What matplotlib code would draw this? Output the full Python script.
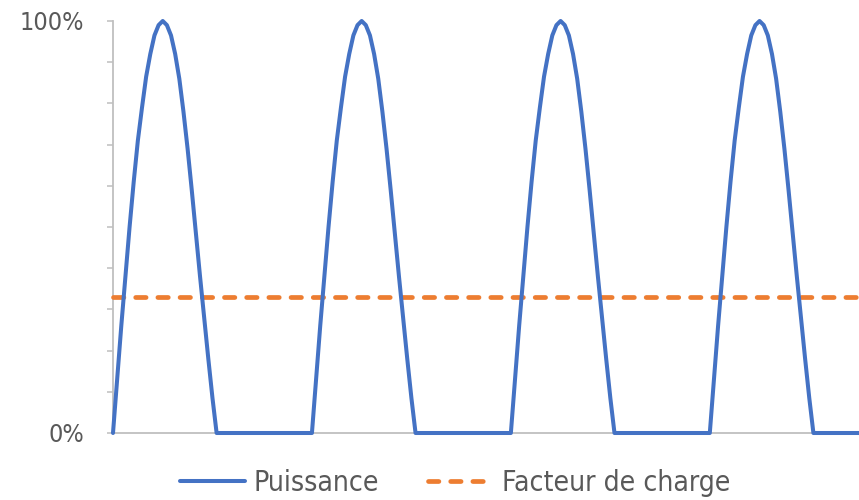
import numpy as np
import matplotlib
matplotlib.use("Agg")
import matplotlib.pyplot as plt
from matplotlib import font_manager

# production profile over one day, one value every half hour (% of peak power)
rise = [0, 13, 26, 38, 50, 61, 71, 79, 86.5, 92, 96.5, 99, 100]
fall = [99, 96.5, 92, 86, 78, 69, 59, 48.5, 38, 28, 18, 8.5, 0]
night = [0] * 22
n_days = 4
load_factor = 33

day = rise + fall + night
puissance = day * n_days
hours = np.arange(len(puissance)) * 0.5

blue = "#4472C4"
orange = "#ED7D31"
grey = "#BFBFBF"
txt = "#595959"

# narrow face if one is available
fonts = [(f.name, f.stretch) for f in font_manager.fontManager.ttflist]
narrow = any(n == "Liberation Sans Narrow" for n, _ in fonts)
condensed = any(n == "DejaVu Sans" and s == "condensed" for n, s in fonts)

fig = plt.figure(figsize=(8.59, 5.0), dpi=100)
ax = fig.add_axes([113 / 859, 67 / 500, 1 - 113 / 859, 412 / 500])

ax.plot(hours, puissance, color=blue, lw=2.9, solid_joinstyle="round",
        solid_capstyle="round", clip_on=False, zorder=4, label="Puissance")
ax.plot([0, hours[-1]], [load_factor, load_factor], color=orange, lw=3.4,
        linestyle=(0, (2.2, 2.5)), dash_capstyle="round", clip_on=False,
        zorder=3, label="Facteur de charge")

ax.set_xlim(0, 90)
ax.set_ylim(0, 100)

for s in ["top", "right"]:
    ax.spines[s].set_visible(False)
for s in ["left", "bottom"]:
    ax.spines[s].set_color(grey)
    ax.spines[s].set_linewidth(1.3)

ax.set_xticks([])
ax.set_yticks(range(0, 101, 10))
ax.set_yticklabels(["0%"] + [""] * 9 + ["100%"])
ax.tick_params(axis="y", direction="out", length=4.5, width=1.1, color=grey,
               pad=16, labelcolor=txt)
for lab in ax.get_yticklabels():
    if narrow:
        lab.set_family("Liberation Sans Narrow")
        lab.set_fontsize(19)
    elif condensed:
        lab.set_family("DejaVu Sans")
        lab.set_stretch("condensed")
        lab.set_fontsize(18)
    else:
        lab.set_family("Liberation Sans")
        lab.set_fontsize(17)

leg = fig.legend(loc="center", bbox_to_anchor=(455 / 859, 0.034), ncol=2,
                 frameon=False, fontsize=20.3 if condensed else 18.5,
                 handlelength=2.3, handletextpad=0.3, columnspacing=1.75,
                 borderaxespad=0, borderpad=0)
for t in leg.get_texts():
    t.set_color(txt)
    if condensed:
        t.set_stretch("condensed")

fig.savefig("out.png", dpi=100)
